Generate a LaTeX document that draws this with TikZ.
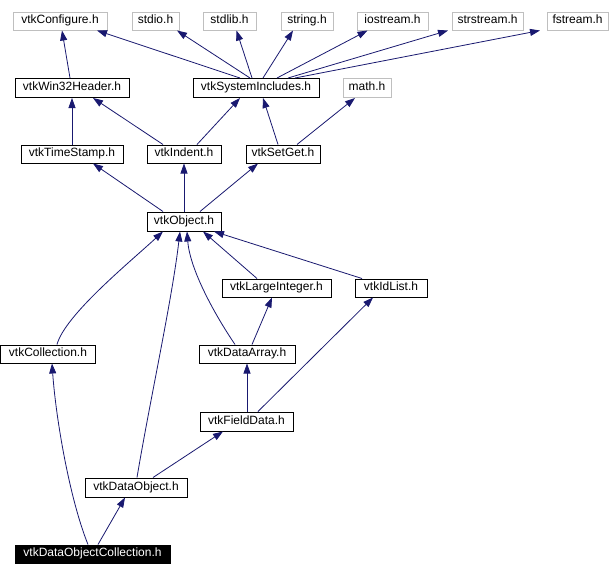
\documentclass[tikz,border=0pt]{standalone}
\usepackage{fontspec}
\setmainfont{Liberation Sans}
\usetikzlibrary{arrows.meta}
\definecolor{edgec}{HTML}{191970}
\definecolor{grayb}{HTML}{BFBFBF}
\begin{document}
\begin{tikzpicture}[x=1pt,y=-1pt,
  box/.style={draw=black,line width=1pt,fill=white,inner sep=0pt,minimum height=18pt,text height=8.6pt,text depth=3.6pt,font=\fontsize{12}{14}\selectfont,text=black},
  gbox/.style={box,draw=grayb},
  hbox/.style={box,fill=black,text=white},
  edge/.style={draw=edgec,line width=0.8pt,-{Triangle[length=10pt,width=7pt]}}]
\fill[white] (0,0) rectangle (610,576);
\useasboundingbox (0,0) rectangle (610,576);
% nodes
\node[gbox,minimum width=94pt] (conf) at (60,21) {vtkConfigure.h};
\node[gbox,minimum width=47pt] (stdio) at (155.5,21) {stdio.h};
\node[gbox,minimum width=53pt] (stdlib) at (229.5,21) {stdlib.h};
\node[gbox,minimum width=52pt] (string) at (307,21) {string.h};
\node[gbox,minimum width=71pt] (iostream) at (392.5,21) {iostream.h};
\node[gbox,minimum width=71pt] (strstream) at (487.5,21) {strstream.h};
\node[gbox,minimum width=61pt] (fstream) at (577.5,21) {fstream.h};
\node[box,minimum width=114pt,minimum height=19pt] (win32) at (72,88) {vtkWin32Header.h};
\node[box,minimum width=126pt,minimum height=19pt] (sys) at (256,88) {vtkSystemIncludes.h};
\node[gbox,minimum width=48pt,minimum height=19pt] (math) at (367,88) {math.h};
\node[box,minimum width=102pt] (ts) at (72,154) {vtkTimeStamp.h};
\node[box,minimum width=74pt] (indent) at (184,154) {vtkIndent.h};
\node[box,minimum width=74pt] (setget) at (283,154) {vtkSetGet.h};
\node[box,minimum width=74pt,minimum height=19pt] (obj) at (184,221.5) {vtkObject.h};
\node[box,minimum width=109pt] (large) at (276.5,288) {vtkLargeInteger.h};
\node[box,minimum width=72pt] (idlist) at (391,288) {vtkIdList.h};
\node[box,minimum width=95pt] (coll) at (48,354) {vtkCollection.h};
\node[box,minimum width=96pt] (darray) at (247,354) {vtkDataArray.h};
\node[box,minimum width=93pt,minimum height=19pt] (field) at (246.5,421.5) {vtkFieldData.h};
\node[box,minimum width=102pt,minimum height=19pt] (dobj) at (136,487.5) {vtkDataObject.h};
\node[hbox,minimum width=155pt] (doc) at (92.5,554) {vtkDataObjectCollection.h};
% edges
\draw[edge] ([xshift=-2pt]win32.north) -- ([xshift=2pt]conf.south);
\draw[edge] ([xshift=-16pt]sys.north) -- ([xshift=37pt]conf.south);
\draw[edge] ([xshift=-6pt]sys.north) -- ([xshift=21.5pt]stdio.south);
\draw[edge] ([xshift=-4pt]sys.north) -- ([xshift=7pt]stdlib.south);
\draw[edge] ([xshift=7pt]sys.north) -- ([xshift=-14pt]string.south);
\draw[edge] ([xshift=21pt]sys.north) -- ([xshift=-25pt]iostream.south);
\draw[edge] ([xshift=32pt]sys.north) -- ([xshift=-39.5pt]strstream.south);
\draw[edge] ([xshift=39pt]sys.north) -- ([xshift=-37.5pt]fstream.south);
\draw[edge] (ts.north) -- (win32.south);
\draw[edge] ([xshift=-21pt]indent.north) -- ([xshift=21pt]win32.south);
\draw[edge] ([xshift=13pt]indent.north) -- ([xshift=-16pt]sys.south);
\draw[edge] ([xshift=-5pt]setget.north) -- ([xshift=7pt]sys.south);
\draw[edge] ([xshift=14pt]setget.north) -- ([xshift=-12pt]math.south);
\draw[edge] ([xshift=-21pt]obj.north) -- ([xshift=21pt]ts.south);
\draw[edge] (obj.north) -- (indent.south);
\draw[edge] ([xshift=16pt]obj.north) -- ([xshift=-25pt]setget.south);
\draw[edge] ([xshift=9pt]coll.north) .. controls (65,315) and (130,262) .. ([xshift=-21pt]obj.south);
\draw[edge] ([xshift=1pt]dobj.north) .. controls (150,400) and (172,300) .. ([xshift=-4pt]obj.south);
\draw[edge] ([xshift=-12pt]darray.north) .. controls (215,315) and (190,270) .. ([xshift=3pt]obj.south);
\draw[edge] ([xshift=-19.5pt]large.north) -- ([xshift=19pt]obj.south);
\draw[edge] ([xshift=-29pt]idlist.north) -- ([xshift=30pt]obj.south);
\draw[edge] ([xshift=5pt]darray.north) -- ([xshift=-4.5pt]large.south);
\draw[edge] ([xshift=0.5pt]field.north) -- (darray.south);
\draw[edge] ([xshift=11.5pt]field.north) -- ([xshift=-18pt]idlist.south);
\draw[edge] ([xshift=17pt]dobj.north) -- ([xshift=-23.5pt]field.south);
\draw[edge] ([xshift=5.5pt]doc.north) -- ([xshift=-11pt]dobj.south);
\draw[edge] ([xshift=-4.5pt]doc.north) .. controls (70,500) and (56,420) .. ([xshift=4pt]coll.south);
\end{tikzpicture}
\end{document}
